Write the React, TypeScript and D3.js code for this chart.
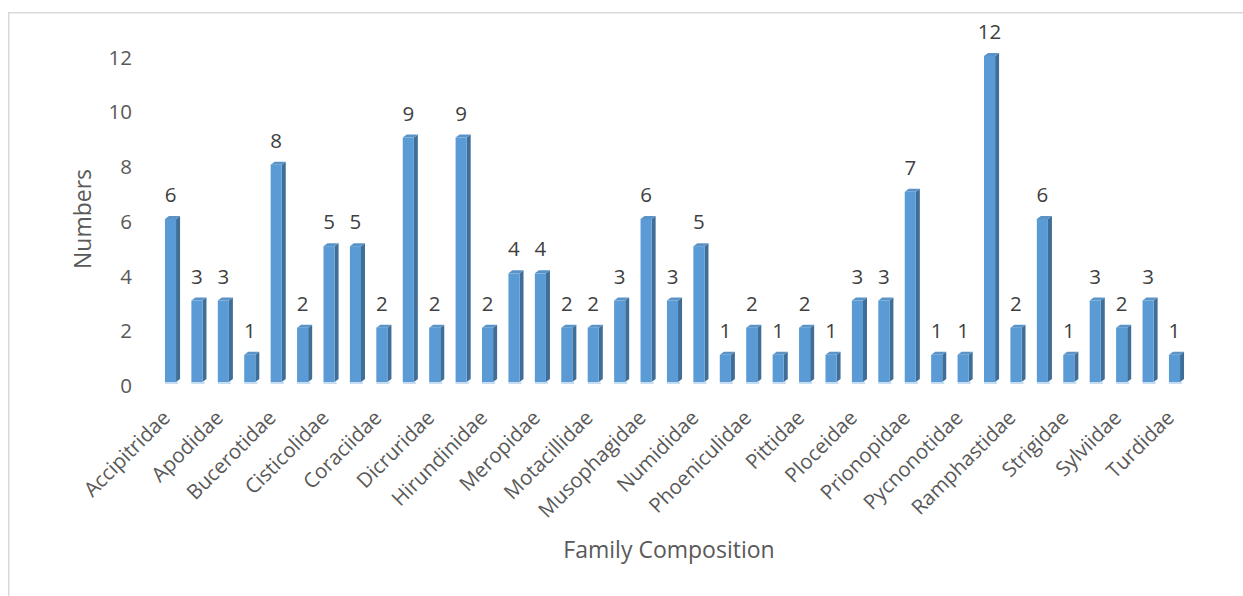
import * as d3 from 'd3';
import { useEffect, useRef } from 'react';

// bird families (every second one labelled on the axis)
const families = [
  'Accipitridae', 'Alcedinidae', 'Apodidae', 'Ardeidae', 'Bucerotidae',
  'Capitonidae', 'Cisticolidae', 'Columbidae', 'Coraciidae', 'Cuculidae',
  'Dicruridae', 'Estrildidae', 'Hirundinidae', 'Laniidae', 'Meropidae',
  'Monarchidae', 'Motacillidae', 'Muscicapidae', 'Musophagidae', 'Nectariniidae',
  'Numididae', 'Oriolidae', 'Phoeniculidae', 'Picidae', 'Pittidae',
  'Platysteiridae', 'Ploceidae', 'Podicipedidae', 'Prionopidae', 'Psittacidae',
  'Pycnonotidae', 'Rallidae', 'Ramphastidae', 'Scopidae', 'Strigidae',
  'Sturnidae', 'Sylviidae', 'Timaliidae', 'Turdidae',
];
const counts = [
  6, 3, 3, 1, 8, 2, 5, 5, 2, 9,
  2, 9, 2, 4, 4, 2, 2, 3, 6, 3,
  5, 1, 2, 1, 2, 1, 3, 3, 7, 1,
  1, 12, 2, 6, 1, 3, 2, 3, 1,
];
const yTicks = [0, 2, 4, 6, 8, 10, 12];

const W = 1243;
const H = 596;
const FONT = '"Open Sans", sans-serif';

const App = () => {
  const ref = useRef<SVGSVGElement | null>(null);

  useEffect(() => {
    const svg = d3.select(ref.current);
    svg.selectAll('*').remove();

    // chart area border
    svg.append('rect')
      .attr('x', 8.75).attr('y', 12.75)
      .attr('width', 1400).attr('height', 800)
      .attr('fill', 'none')
      .attr('stroke', '#d9d9d9')
      .attr('stroke-width', 1.5);

    const x = d3.scaleBand<string>()
      .domain(families)
      .range([157.3, 1187.7])
      .paddingInner(0.58)
      .paddingOuter(0.29);

    // bars sit on the front plane, tick labels on the back wall
    const y = d3.scaleLinear().domain([0, 12]).range([382, 56]);
    const yWall = d3.scaleLinear().domain([0, 12]).range([386, 57.5]);

    const bw = x.bandwidth();
    const dx = 4, dy = 3;
    const y0 = y(0);

    // y tick labels
    svg.append('g')
      .selectAll('text')
      .data(yTicks)
      .join('text')
      .attr('x', 132)
      .attr('y', (d) => yWall(d))
      .attr('dy', '0.35em')
      .attr('text-anchor', 'end')
      .attr('font-family', FONT)
      .attr('font-size', 20.5)
      .attr('fill', '#595959')
      .text((d) => d);

    const data = families.map((f, i) => ({ name: f, value: counts[i] }));
    const g = svg.append('g');

    // soft shadow under each bar
    g.selectAll('rect.shadow')
      .data(data)
      .join('rect')
      .attr('class', 'shadow')
      .attr('x', (d) => x(d.name)!)
      .attr('y', y0)
      .attr('width', bw + 2)
      .attr('height', 2)
      .attr('fill', '#c5dcf1');

    // side face
    g.selectAll('path.side')
      .data(data)
      .join('path')
      .attr('class', 'side')
      .attr('fill', '#3f6e98')
      .attr('d', (d) => {
        const x1 = x(d.name)! + bw;
        const yt = y(d.value);
        return `M${x1},${yt}L${x1 + dx},${yt - dy}L${x1 + dx},${y0 - dy}L${x1},${y0}Z`;
      });

    // top face
    g.selectAll('path.top')
      .data(data)
      .join('path')
      .attr('class', 'top')
      .attr('fill', '#5a93c8')
      .attr('d', (d) => {
        const x0 = x(d.name)!;
        const yt = y(d.value);
        return `M${x0},${yt}L${x0 + dx},${yt - dy}L${x0 + bw + dx},${yt - dy}L${x0 + bw},${yt}Z`;
      });

    // front face
    g.selectAll('rect.front')
      .data(data)
      .join('rect')
      .attr('class', 'front')
      .attr('x', (d) => x(d.name)!)
      .attr('y', (d) => y(d.value))
      .attr('width', bw)
      .attr('height', (d) => y0 - y(d.value))
      .attr('fill', '#5b9bd5');

    // value labels
    g.selectAll('text.val')
      .data(data)
      .join('text')
      .attr('class', 'val')
      .attr('x', (d) => x(d.name)! + bw / 2)
      .attr('y', (d) => y(d.value) - 17)
      .attr('text-anchor', 'middle')
      .attr('font-family', FONT)
      .attr('font-size', 20.5)
      .attr('fill', '#404040')
      .text((d) => d.value);

    // category labels, every second family
    svg.append('g')
      .selectAll('text')
      .data(families.filter((_, i) => i % 2 === 0))
      .join('text')
      .attr('transform', (d) => `translate(${x(d)! + bw / 2 + 1},419) rotate(-45)`)
      .attr('text-anchor', 'end')
      .attr('font-family', FONT)
      .attr('font-size', 20.5)
      .attr('fill', '#595959')
      .text((d) => d);

    // axis titles
    svg.append('text')
      .attr('transform', 'translate(91,219) rotate(-90)')
      .attr('text-anchor', 'middle')
      .attr('font-family', FONT)
      .attr('font-size', 23)
      .attr('fill', '#595959')
      .text('Numbers');

    svg.append('text')
      .attr('x', 669)
      .attr('y', 558)
      .attr('text-anchor', 'middle')
      .attr('font-family', FONT)
      .attr('font-size', 23)
      .attr('fill', '#595959')
      .text('Family Composition');
  }, []);

  return (
    <svg
      ref={ref}
      width={W}
      height={H}
      style={{ position: 'absolute', left: 0, top: 0, background: '#fff' }}
    />
  );
};

export default App;
